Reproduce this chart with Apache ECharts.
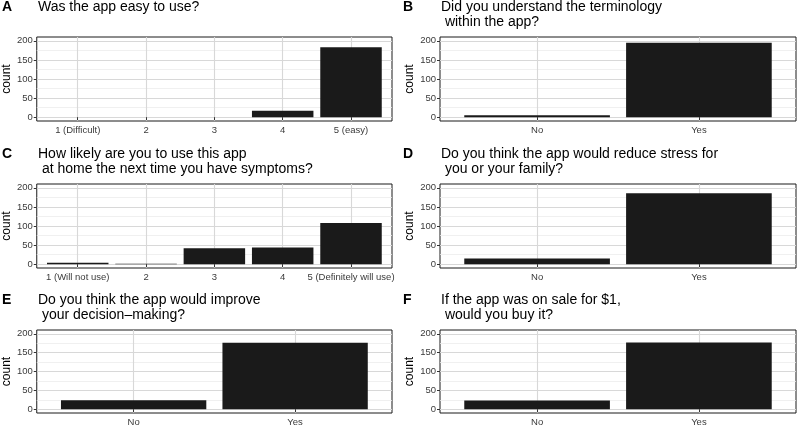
<!DOCTYPE html>
<html><head><meta charset="utf-8">
<script src="https://cdn.jsdelivr.net/npm/echarts@6/dist/echarts.min.js"></script>
<style>html,body{margin:0;padding:0;background:#fff}#c{width:797px;height:427px}</style>
</head><body><div id="c"></div>
<script>
// ---- data ----
const panelLetters = ['A', 'B', 'C', 'D', 'E', 'F'];
const panelTitles = [
  'Was the app easy to use?',
  'Did you understand the terminology\n within the app?',
  'How likely are you to use this app\n at home the next time you have symptoms?',
  'Do you think the app would reduce stress for\n you or your family?',
  'Do you think the app would improve\n your decision\u2013making?',
  'If the app was on sale for $1,\n would you buy it?'
];
const catsEase = ['1 (Difficult)', '2', '3', '4', '5 (easy)'];
const catsLikely = ['1 (Will not use)', '2', '3', '4', '5 (Definitely will use)'];
const catsYesNo = ['No', 'Yes'];
const valsA = [0, 0, 0, 17, 183];
const valsB = [5, 195];
const valsC = [4, 1, 42, 44, 108];
const valsD = [15, 186];
const valsE = [24, 176];
const valsF = [23, 177];
const yTicks = [0, 50, 100, 150, 200];
const yMinorTicks = [25, 75, 125, 175];
const yLabel = 'count';

// ---- layout / style ----
const FONT = "'Liberation Sans', Arial, Helvetica, sans-serif";
const colLeft = [35, 440], colWidth = [357, 356];
const rowTop = [37, 184, 330], rowH = 84;
const panelCats = [catsEase, catsYesNo, catsLikely, catsYesNo, catsYesNo, catsYesNo];
const panelVals = [valsA, valsB, valsC, valsD, valsE, valsF];

const grid = [], xAxis = [], yAxis = [], series = [], title = [];
panelLetters.forEach((letter, i) => {
  const col = i % 2, row = Math.floor(i / 2);
  const left = colLeft[col], top = rowTop[row];
  const cats = panelCats[i], vals = panelVals[i];
  const idx = cats.map((c, k) => k + 1);
  grid.push({left: left, top: top, width: colWidth[col], height: rowH, show: true,
    borderColor: '#1a1a1a', borderWidth: 1, backgroundColor: '#fff'});
  xAxis.push({type: 'value', gridIndex: i, min: 0.4, max: cats.length + 0.6,
    axisLine: {show: false},
    axisTick: {show: true, customValues: idx, length: 3, lineStyle: {color: '#333', width: 1}},
    axisLabel: {customValues: idx, formatter: v => cats[Math.round(v) - 1], margin: 4,
      color: '#3a3a3a', fontSize: 9.5, fontFamily: FONT},
    splitLine: {show: true, lineStyle: {color: '#d8d8d8', width: 1.1}}});
  yAxis.push({type: 'value', gridIndex: i, min: -10, max: 210, position: 'left',
    name: yLabel, nameLocation: 'middle', nameRotate: 90, nameGap: col ? 24 : 22,
    nameTextStyle: {fontSize: 12, fontFamily: FONT, color: '#000'},
    axisLine: {show: false},
    axisTick: {show: true, customValues: yTicks, length: 3, lineStyle: {color: '#333', width: 1}},
    axisLabel: {customValues: yTicks, margin: 4, color: '#3a3a3a', fontSize: 9.5, fontFamily: FONT},
    splitLine: {show: true, lineStyle: {color: '#d8d8d8', width: 1.1}}});
  yAxis.push({type: 'value', gridIndex: i, min: -10, max: 210, position: 'right',
    axisLine: {show: false}, axisTick: {show: false, customValues: yMinorTicks},
    axisLabel: {show: false},
    splitLine: {show: true, lineStyle: {color: '#ececec', width: 0.8}}});
  series.push({type: 'bar', xAxisIndex: i, yAxisIndex: 2 * i, silent: true,
    data: vals.map((v, k) => [k + 1, v]), barWidth: '90%',
    itemStyle: {color: '#1a1a1a'}});
  title.push({text: letter, left: col ? 403 : 2, top: top - 37, padding: 0,
    textStyle: {fontSize: 14, fontWeight: 'bold', fontFamily: FONT, color: '#000', lineHeight: 15}});
  title.push({text: panelTitles[i], left: col ? left + 1 : left + 3, top: top - 37, padding: 0,
    textStyle: {fontSize: 14, fontWeight: 'normal', fontFamily: FONT, color: '#000', lineHeight: 15}});
});

const chart = echarts.init(document.getElementById('c'), null, {renderer: 'canvas'});
chart.setOption({animation: false, backgroundColor: '#fff', title, grid, xAxis, yAxis, series});
</script></body></html>
